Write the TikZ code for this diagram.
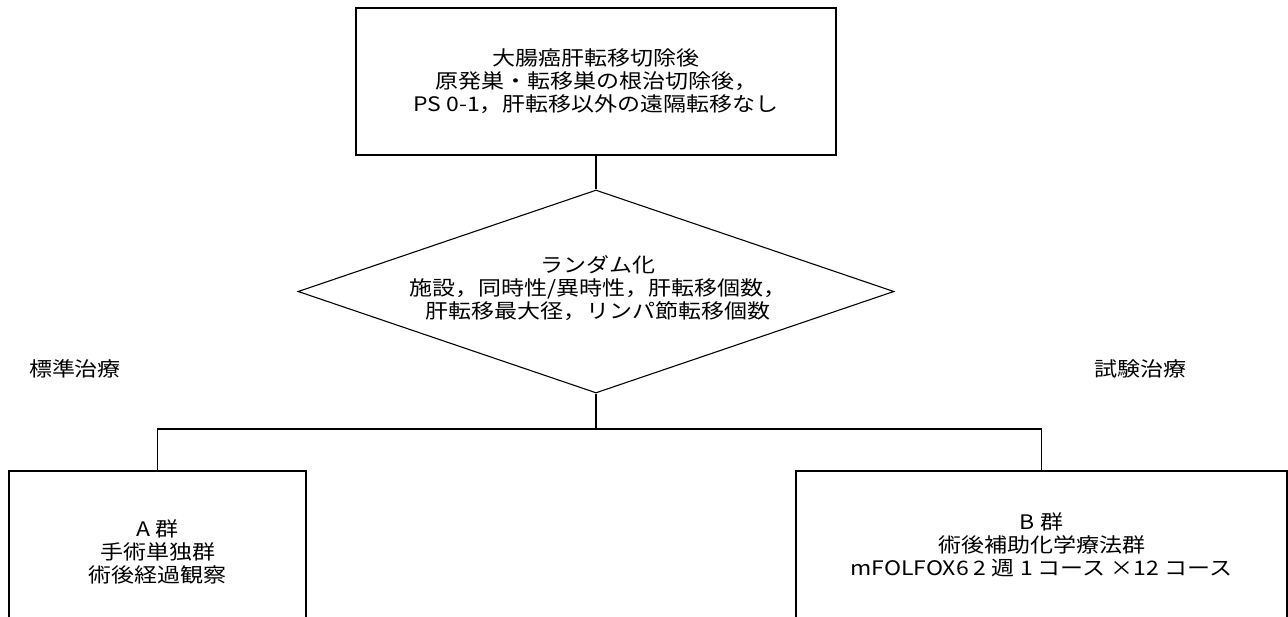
\documentclass[tikz,border=0pt]{standalone}
\usepackage{fontspec}
\newfontfamily\jp[FakeStretch=1.15]{Noto Sans CJK JP}
\usetikzlibrary{shapes.geometric}
\begin{document}
\begin{tikzpicture}[x=1pt,y=-1pt,
  line width=1.1pt,
  jptext/.style={font=\jp\fontsize{20}{23}\selectfont, align=center, inner sep=0pt},
  boxnode/.style={draw, rectangle, jptext},
  dianode/.style={draw, diamond, inner sep=0pt}]
\useasboundingbox[fill=white] (0,0) rectangle (1288,616);
\node[boxnode, minimum width=480pt, minimum height=147pt] (top) at (596,81.5)
  {大腸癌肝転移切除後\\原発巣・転移巣の根治切除後，\\PS 0-1，肝転移以外の遠隔転移なし};
\node[dianode, minimum width=596pt, minimum height=203pt] (dia) at (596,291.5) {};
\node[jptext] (diatext) at (598,288)
  {ランダム化\\施設，同時性/異時性，肝転移個数，\\肝転移最大径，リンパ節転移個数};
\node[jptext] (std) at (75,369) {標準治療};
\node[jptext] (exp) at (1140,369) {試験治療};
\node[boxnode, minimum width=297pt, minimum height=162pt] (A) at (157.5,552)
  {A 群\\手術単独群\\術後経過観察};
\node[boxnode, minimum width=491pt, minimum height=148pt] (B) at (1041.5,545)
  {B 群\\術後補助化学療法群\\mFOLFOX6 2 週 1 コース ×12 コース};
\coordinate (split) at (596,429);
\draw (top.south) -- (dia.north);
\draw (dia.south) -- (split);
\draw (A.north) |- (split) -| (B.north);
\end{tikzpicture}
\end{document}
